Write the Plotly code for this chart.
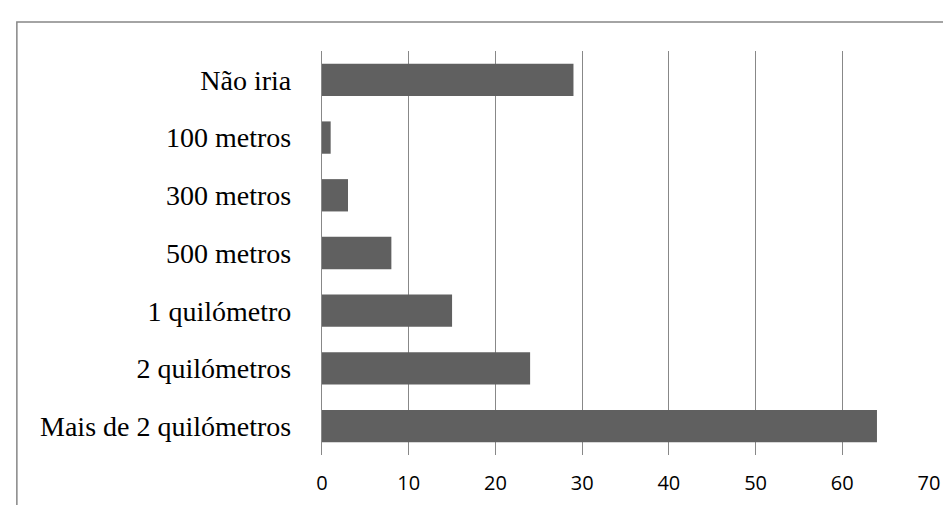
import plotly.graph_objects as go

categories = ["Não iria", "100 metros", "300 metros", "500 metros",
              "1 quilómetro", "2 quilómetros", "Mais de 2 quilómetros"]
values = [29, 1, 3, 8, 15, 24, 64]
x_ticks = [0, 10, 20, 30, 40, 50, 60, 70]

fig = go.Figure(go.Bar(
    x=values, y=categories, orientation="h",
    marker=dict(color="#606060", line=dict(width=0)),
))

fig.update_layout(
    width=951, height=505,
    margin=dict(l=314, r=30, t=43, b=58),
    paper_bgcolor="white", plot_bgcolor="white",
    bargap=0.44, showlegend=False,
    xaxis=dict(range=[0, 70], tickvals=x_ticks, showgrid=True,
               gridcolor="#888888", gridwidth=1.3, zeroline=False,
               showline=False, ticks="",
               tickfont=dict(family="Open Sans", size=20, color="black"),
               ticklabelstandoff=14),
    yaxis=dict(autorange="reversed", showgrid=False, ticks="",
               showline=True, linecolor="#888888", linewidth=1.3,
               tickfont=dict(family="Liberation Serif", size=28, color="black"),
               ticklabelstandoff=24),
    shapes=[dict(type="rect", xref="paper", yref="paper",
                 x0=-0.5027, x1=1.07, y0=-0.2, y1=1.0718,
                 line=dict(color="#878787", width=1.5), layer="below")],
)

fig.write_html("out.html")
